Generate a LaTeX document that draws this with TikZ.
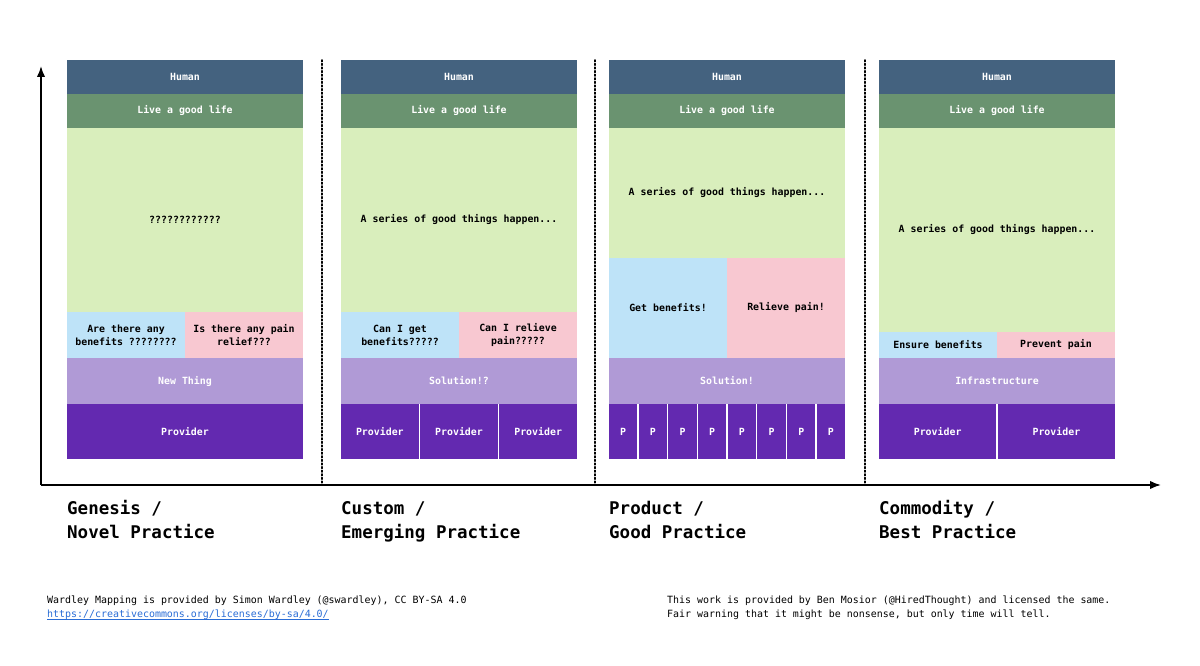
\documentclass[tikz,border=0pt]{standalone}
\usepackage{fontspec}
\setmainfont{DejaVu Sans Mono}
\usetikzlibrary{arrows.meta}
\definecolor{cHuman}{HTML}{44627F}
\definecolor{cLive}{HTML}{6A9370}
\definecolor{cGreen}{HTML}{D9EEBC}
\definecolor{cBlue}{HTML}{BEE3F8}
\definecolor{cPink}{HTML}{F8C8D1}
\definecolor{cLav}{HTML}{B09AD6}
\definecolor{cPurple}{HTML}{6329B0}
\definecolor{cLink}{HTML}{2A6DD6}
\tikzset{
  cell/.style={anchor=north west, inner sep=0pt, outer sep=0pt, draw=none, align=center,
    font=\fontsize{9.9}{13}\selectfont\bfseries},
  lightcell/.style={cell, text=black},
  darkcell/.style={cell, text=white},
  stagelbl/.style={anchor=base west, inner sep=0pt, font=\fontsize{17.5}{24}\selectfont\bfseries},
  footlbl/.style={anchor=base west, inner sep=0pt, font=\fontsize{9.95}{14}\selectfont},
  divider/.style={line width=1.6pt, dotted, line cap=round},
  axis/.style={line width=1.8pt, -{Latex[length=11pt,width=8.5pt]}}
}
\begin{document}
\begin{tikzpicture}[x=1pt,y=-1pt]
\useasboundingbox[fill=white] (0,0) rectangle (1200,666);

% ---------- Column 1 : Genesis ----------
\node[darkcell, fill=cHuman, minimum width=236pt, minimum height=34pt] (h1) at (67,60) {Human};
\node[darkcell, fill=cLive, minimum width=236pt, minimum height=34pt] (l1) at (67,94) {Live a good life};
\node[lightcell, fill=cGreen, minimum width=236pt, minimum height=184pt] (g1) at (67,128) {????????????};
\node[lightcell, fill=cBlue, minimum width=118pt, minimum height=46pt] (b1) at (67,312) {Are there any\\benefits ????????};
\node[lightcell, fill=cPink, minimum width=118pt, minimum height=46pt] (p1) at (185,312) {Is there any pain\\relief???};
\node[darkcell, fill=cLav, minimum width=236pt, minimum height=46pt] (s1) at (67,358) {New Thing};
\node[darkcell, fill=cPurple, minimum width=236pt, minimum height=55pt] (v1) at (67,404) {Provider};

% ---------- Column 2 : Custom ----------
\node[darkcell, fill=cHuman, minimum width=236pt, minimum height=34pt] (h2) at (341,60) {Human};
\node[darkcell, fill=cLive, minimum width=236pt, minimum height=34pt] (l2) at (341,94) {Live a good life};
\node[lightcell, fill=cGreen, minimum width=236pt, minimum height=184pt] (g2) at (341,128) {A series of good things happen...};
\node[lightcell, fill=cBlue, minimum width=118pt, minimum height=46pt] (b2) at (341,312) {Can I get\\benefits?????};
\node[lightcell, fill=cPink, minimum width=118pt, minimum height=46pt] (p2) at (459,312) {Can I relieve\\pain?????};
\node[darkcell, fill=cLav, minimum width=236pt, minimum height=46pt] (s2) at (341,358) {Solution!?};
\node[darkcell, fill=cPurple, minimum width=77.7pt, minimum height=55pt] (v2a) at (341,404) {Provider};
\node[darkcell, fill=cPurple, minimum width=77.7pt, minimum height=55pt] (v2b) at (420.15,404) {Provider};
\node[darkcell, fill=cPurple, minimum width=77.7pt, minimum height=55pt] (v2c) at (499.3,404) {Provider};

% ---------- Column 3 : Product ----------
\node[darkcell, fill=cHuman, minimum width=236pt, minimum height=34pt] (h3) at (609,60) {Human};
\node[darkcell, fill=cLive, minimum width=236pt, minimum height=34pt] (l3) at (609,94) {Live a good life};
\node[lightcell, fill=cGreen, minimum width=236pt, minimum height=130pt] (g3) at (609,128) {A series of good things happen...};
\node[lightcell, fill=cBlue, minimum width=118pt, minimum height=100pt] (b3) at (609,258) {Get benefits!};
\node[lightcell, fill=cPink, minimum width=118pt, minimum height=100pt] (p3) at (727,258) {Relieve pain!};
\node[darkcell, fill=cLav, minimum width=236pt, minimum height=46pt] (s3) at (609,358) {Solution!};
\foreach \i in {0,...,7}{
  \node[darkcell, fill=cPurple, minimum width=28.19pt, minimum height=55pt] (v3\i) at (609+\i*29.69,404) {P};
}

% ---------- Column 4 : Commodity ----------
\node[darkcell, fill=cHuman, minimum width=236pt, minimum height=34pt] (h4) at (879,60) {Human};
\node[darkcell, fill=cLive, minimum width=236pt, minimum height=34pt] (l4) at (879,94) {Live a good life};
\node[lightcell, fill=cGreen, minimum width=236pt, minimum height=204pt] (g4) at (879,128) {A series of good things happen...};
\node[lightcell, fill=cBlue, minimum width=118pt, minimum height=26pt] (b4) at (879,332) {Ensure benefits};
\node[lightcell, fill=cPink, minimum width=118pt, minimum height=26pt] (p4) at (997,332) {Prevent pain};
\node[darkcell, fill=cLav, minimum width=236pt, minimum height=46pt] (s4) at (879,358) {Infrastructure};
\node[darkcell, fill=cPurple, minimum width=117.25pt, minimum height=55pt] (v4a) at (879,404) {Provider};
\node[darkcell, fill=cPurple, minimum width=117.25pt, minimum height=55pt] (v4b) at (997.75,404) {Provider};

% ---------- Axes and dividers ----------
\coordinate (origin) at (41,485);
\coordinate (ytop) at (41,66);
\coordinate (xend) at (1161,485);
\coordinate (d1t) at (322,60);
\coordinate (d1b) at (322,485);
\coordinate (d2t) at (595,60);
\coordinate (d2b) at (595,485);
\coordinate (d3t) at (865,60);
\coordinate (d3b) at (865,485);
\draw[divider] (d1t) -- (d1b);
\draw[divider] (d2t) -- (d2b);
\draw[divider] (d3t) -- (d3b);
\draw[axis] (origin) -- (ytop);
\draw[axis] (origin) -- (xend);

% ---------- Stage labels ----------
\node[stagelbl] (st1a) at (67,514) {Genesis /};
\node[stagelbl] (st1b) at (67,538) {Novel Practice};
\node[stagelbl] (st2a) at (341,514) {Custom /};
\node[stagelbl] (st2b) at (341,538) {Emerging Practice};
\node[stagelbl] (st3a) at (609,514) {Product /};
\node[stagelbl] (st3b) at (609,538) {Good Practice};
\node[stagelbl] (st4a) at (879,514) {Commodity /};
\node[stagelbl] (st4b) at (879,538) {Best Practice};

% ---------- Footer ----------
\node[footlbl] (fl1) at (47,603) {Wardley Mapping is provided by Simon Wardley (@swardley), CC BY-SA 4.0};
\node[footlbl, text=cLink] (fl2) at (47,617) {https://creativecommons.org/licenses/by-sa/4.0/};
\draw[cLink, line width=0.6pt] ([yshift=-1.8pt]fl2.base west) -- ([yshift=-1.8pt]fl2.base east);
\node[footlbl] (fr1) at (667,603) {This work is provided by Ben Mosior (@HiredThought) and licensed the same.};
\node[footlbl] (fr2) at (667,617) {Fair warning that it might be nonsense, but only time will tell.};
\end{tikzpicture}
\end{document}
